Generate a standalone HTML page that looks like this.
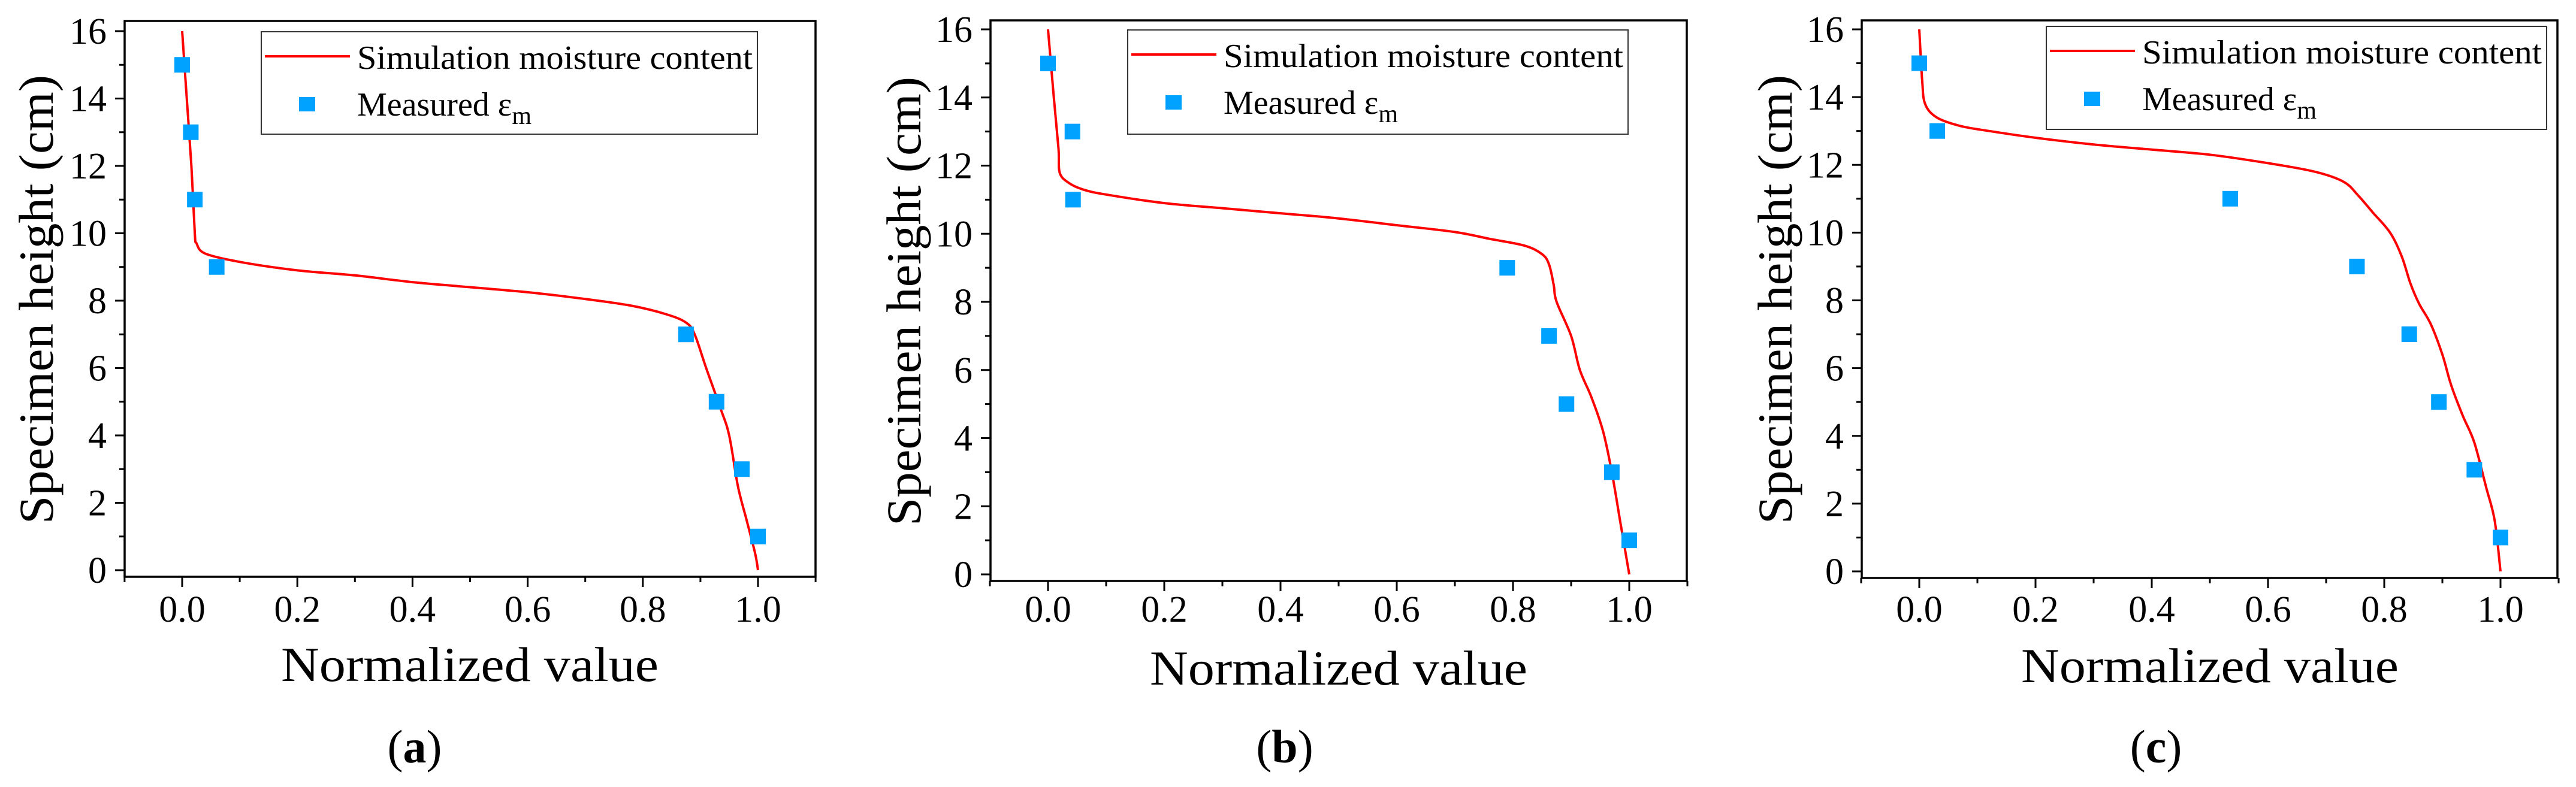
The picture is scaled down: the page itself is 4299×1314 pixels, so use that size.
<!DOCTYPE html>
<html><head><meta charset="utf-8"><style>
html,body{margin:0;padding:0;background:#fff;}
svg{display:block;}
svg text{font-family:"Liberation Serif","DejaVu Serif",serif;fill:#000;}
</style></head><body>
<svg id="fig" width="4299" height="1314" viewBox="0 0 4299 1314" font-family="Liberation Serif, DejaVu Serif, serif" xmlns="http://www.w3.org/2000/svg"></svg>
<script>
// ---- data ----
const xTicks = [0.0, 0.2, 0.4, 0.6, 0.8, 1.0];
const xTickLabels = ["0.0", "0.2", "0.4", "0.6", "0.8", "1.0"];
const yTicks = [0, 2, 4, 6, 8, 10, 12, 14, 16];
const yTickLabels = ["0", "2", "4", "6", "8", "10", "12", "14", "16"];
const panelIds = ["a", "b", "c"];

const measHeight = [15, 13, 11, 9, 7, 5, 3, 1];
const measA = [0.0, 0.015, 0.022, 0.06, 0.875, 0.928, 0.972, 1.0];
const measB = [0.0, 0.042, 0.043, 0.79, 0.862, 0.892, 0.97, 1.0];
const measC = [0.0, 0.031, 0.535, 0.753, 0.843, 0.894, 0.955, 1.0];

const simAx = [0,0.008,0.016,0.022,0.025,0.04,0.1,0.2,0.3,0.4,0.5,0.6,0.7,0.78,0.84,0.875,0.89,0.91,0.935,0.95,0.965,0.98,0.995,1.0];
const simAy = [16,14,12,10,9.7,9.4,9.15,8.9,8.75,8.55,8.4,8.25,8.05,7.85,7.6,7.35,7.0,6.0,4.8,4.0,2.5,1.5,0.5,0];
const simBx = [0,0.01,0.018,0.02,0.035,0.06,0.1,0.2,0.3,0.4,0.5,0.6,0.7,0.76,0.82,0.85,0.862,0.87,0.875,0.9,0.915,0.935,0.955,0.97,0.985,1.0];
const simBy = [16,14,12.5,11.8,11.5,11.3,11.15,10.9,10.75,10.6,10.45,10.25,10.05,9.85,9.65,9.4,9.1,8.5,8.0,7.0,6.0,5.2,4.2,3.0,1.5,0];
const simCx = [0,0.005,0.01,0.03,0.07,0.12,0.2,0.3,0.4,0.5,0.6,0.68,0.73,0.755,0.78,0.81,0.83,0.845,0.86,0.88,0.9,0.915,0.935,0.955,0.975,0.99,1.0];
const simCy = [16,14.5,13.8,13.4,13.15,13.0,12.8,12.6,12.45,12.3,12.05,11.8,11.5,11.1,10.6,10.0,9.3,8.5,7.9,7.3,6.4,5.5,4.6,3.8,2.5,1.5,0];

// ---- layout (pixels) ----
const layouts = [
 {x0:304,x1:1265,y0:952,y16:52,L:208,R:1361,T:35,B:963,lg:[436,53,1264,224],yt:[60,500],xt:[784,1137],cap:692},
 {x0:1749,x1:2719,y0:959,y16:49,L:1653,R:2815,T:34,B:970,lg:[1882,50,2717,224],yt:[1508,503],xt:[2234,1143],cap:2144},
 {x0:3203,x1:4173,y0:954,y16:49,L:3107,R:4268,T:34,B:965,lg:[3415,44,4250,216],yt:[2962,500],xt:[3688,1139],cap:3598}
];
const measX = [measA, measB, measC];
const simX = [simAx, simBx, simCx];
const simY = [simAy, simBy, simCy];

const NS = "http://www.w3.org/2000/svg";
const svg = document.getElementById('fig');
function mk(tag, attrs, parent){
  const e = document.createElementNS(NS, tag);
  for (const k in attrs) e.setAttribute(k, attrs[k]);
  (parent||svg).appendChild(e);
  return e;
}

layouts.forEach((P, i) => {
  const sx = v => P.x0 + (P.x1 - P.x0) * v;
  const sy = v => P.y0 + (P.y16 - P.y0) * v / 16;
  const g = mk('g', {});
  
  

  for (let v = -0.1; v <= 1.1001; v += 0.1) {
    const major = Math.abs(Math.round(v * 10) % 2) === 0;
    const t = mk('line', {x1:sx(v), x2:sx(v), y1:P.B, y2:P.B + (major ? 17 : 9), stroke:'#000','stroke-width':3}, g);
    
    
  }
  xTicks.forEach((v, k) => {
    const t = mk('text', {x:sx(v), y:1038, 'font-size':62, 'text-anchor':'middle'}, g);
    t.textContent = xTickLabels[k];
    
    
  });
  for (let v = 0; v <= 16; v++) {
    const major = v % 2 === 0;
    const t = mk('line', {x1:P.L - (major ? 16 : 9), x2:P.L, y1:sy(v), y2:sy(v), stroke:'#000','stroke-width':3}, g);
    
    
  }
  yTicks.forEach((v, k) => {
    const t = mk('text', {x:P.L - 30, y:sy(v) + 21, 'font-size':62, 'text-anchor':'end'}, g);
    t.textContent = yTickLabels[k];
    
    
  });

  // simulation curve (Catmull-Rom smoothed)
  const xs = simX[i], ys = simY[i];
  const pts = xs.map((v, k) => [sx(v), sy(ys[k])]);
  let d = 'M' + pts[0][0].toFixed(1) + ',' + pts[0][1].toFixed(1);
  for (let k = 0; k < pts.length - 1; k++) {
    const p0 = pts[Math.max(0, k - 1)], p1 = pts[k], p2 = pts[k + 1], p3 = pts[Math.min(pts.length - 1, k + 2)];
    const c1 = [p1[0] + (p2[0] - p0[0]) / 6, p1[1] + (p2[1] - p0[1]) / 6];
    const c2 = [p2[0] - (p3[0] - p1[0]) / 6, p2[1] - (p3[1] - p1[1]) / 6];
    d += 'C' + c1[0].toFixed(1) + ',' + c1[1].toFixed(1) + ' ' + c2[0].toFixed(1) + ',' + c2[1].toFixed(1) + ' ' + p2[0].toFixed(1) + ',' + p2[1].toFixed(1);
  }
  const path = mk('path', {d:d, fill:'none', stroke:'#ff0000', 'stroke-width':4, 'stroke-linejoin':'round'}, g);
  
  

  measX[i].forEach((v, k) => {
    const r = mk('rect', {x:sx(v) - 13, y:sy(measHeight[k]) - 13, width:26, height:26, fill:'#00a2ff'}, g);
    
    
  });

  const fr = mk('rect', {x:P.L, y:P.T, width:P.R - P.L, height:P.B - P.T, fill:'none', stroke:'#000', 'stroke-width':3.5}, g);
  
  

  const [lx1, ly1, lx2, ly2] = P.lg;
  const lg = mk('g', {}, g);
  
  
  mk('rect', {x:lx1, y:ly1, width:lx2 - lx1, height:ly2 - ly1, fill:'#fff', stroke:'#333', 'stroke-width':2}, lg);
  const ll = mk('line', {x1:lx1 + 6, x2:lx1 + 148, y1:ly1 + 41, y2:ly1 + 41, stroke:'#ff0000', 'stroke-width':4}, lg);
  
  
  const t1 = mk('text', {x:lx1 + 160, y:ly1 + 62, 'font-size':56, textLength:(lx2 - lx1) - 168, lengthAdjust:'spacingAndGlyphs'}, lg);
  t1.textContent = 'Simulation moisture content';
  
  
  const lm = mk('rect', {x:lx1 + 63, y:ly1 + 109, width:27, height:24, fill:'#00a2ff'}, lg);
  
  
  const t2 = mk('text', {x:lx1 + 160, y:ly1 + 140, 'font-size':56}, lg);
  
  
  t2.appendChild(document.createTextNode('Measured ε'));
  const sub = mk('tspan', {'font-size':42, dy:14}, t2);
  sub.textContent = 'm';

  const xt = mk('text', {x:P.xt[0], y:P.xt[1], 'font-size':82, 'text-anchor':'middle', textLength:630, lengthAdjust:'spacingAndGlyphs'}, g);
  xt.textContent = 'Normalized value';
  
  
  const yt = mk('text', {x:0, y:0, 'font-size':82, 'text-anchor':'middle', textLength:750, lengthAdjust:'spacingAndGlyphs',
    transform:'translate(' + (P.yt[0] + 28) + ',' + P.yt[1] + ') rotate(-90)'}, g);
  yt.textContent = 'Specimen height (cm)';
  
  

  const cp = mk('text', {x:P.cap, y:1273, 'font-size':78, 'text-anchor':'middle'}, g);
  
  
  cp.appendChild(document.createTextNode('('));
  const b = mk('tspan', {'font-weight':'bold'}, cp);
  b.textContent = panelIds[i];
  cp.appendChild(document.createTextNode(')'));
});
</script>
</body></html>
